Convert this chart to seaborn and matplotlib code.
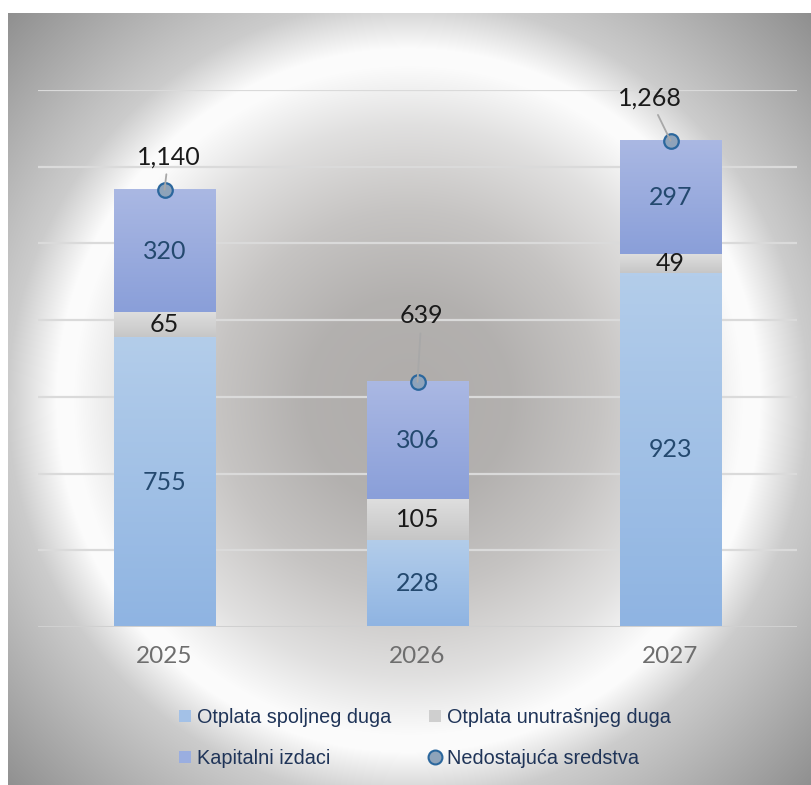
import numpy as np
import pandas as pd
import matplotlib
matplotlib.use("Agg")
import matplotlib.pyplot as plt
import seaborn as sns
from matplotlib.patches import Patch
from matplotlib.lines import Line2D
from matplotlib.colors import LinearSegmentedColormap

# ---------------- data ----------------
years = ["2025", "2026", "2027"]
spoljni = [755, 228, 923]          # Otplata spoljneg duga
unutrasnji = [65, 105, 49]         # Otplata unutrašnjeg duga
kapitalni = [320, 306, 297]        # Kapitalni izdaci
nedostajuca = [1140, 639, 1268]    # Nedostajuća sredstva
series_names = ["Otplata spoljneg duga", "Otplata unutrašnjeg duga",
                "Kapitalni izdaci", "Nedostajuća sredstva"]

sns.set_theme(style="white")
plt.rcParams["font.family"] = ["Lato", "DejaVu Sans"]

W, H = 811, 785
fig = plt.figure(figsize=(W / 100, H / 100), dpi=100)
fig.patch.set_facecolor("white")

# ---------------- radial gradient background ----------------
bx0, by0 = 8, 13
bw, bh = W - bx0, H - by0
bg_ax = fig.add_axes([bx0 / W, 0, bw / W, bh / H], zorder=-5)
yy, xx = np.mgrid[0:bh, 0:bw]
cx, cy = 408, 400
r = np.hypot((bx0 + xx - cx), (by0 + yy - cy)) / 345.0
tp = [0, 0.3, 0.55, 0.8, 0.97, 1.02, 1.16, 1.62]
vp = [0.68, 0.695, 0.77, 0.88, 0.985, 0.985, 0.80, 0.56]
v = np.interp(r, tp, vp)
warm = np.interp(r, [0, 0.6, 0.9], [1.0, 0.6, 0.0])
img = np.dstack([v + 0.008 * warm, v - 0.004 * warm, v - 0.012 * warm])
img = np.clip(img, 0, 1)
bg_ax.imshow(img, aspect="auto", extent=[0, 1, 0, 1], origin="upper")
bg_ax.axis("off")

# ---------------- main axes ----------------
ax = fig.add_axes([38 / W, (H - 627) / H, 759 / W, (627 - 90) / H])
ax.set_facecolor("none")

df = pd.DataFrame({"year": years, "spoljni": spoljni,
                   "unutrasnji": unutrasnji, "kapitalni": kapitalni})
bottom2 = np.array(spoljni)
bottom3 = bottom2 + np.array(unutrasnji)

bw_frac = 102 / 253
sns.barplot(data=df, x="year", y="spoljni", color="#a3c1e7", width=bw_frac,
            ax=ax, zorder=3, linewidth=0, saturation=1)
sns.barplot(data=df, x="year", y="unutrasnji", bottom=bottom2, color="#d2d2d2",
            width=bw_frac, ax=ax, zorder=3, linewidth=0, saturation=1)
sns.barplot(data=df, x="year", y="kapitalni", bottom=bottom3, color="#9aaee0",
            width=bw_frac, ax=ax, zorder=3, linewidth=0, saturation=1)

ax.set_xlim(-0.5, 2.5)
ax.set_ylim(0, 1400)

# gradient fills on bars
grads = [("#b3cdea", "#8fb4e2"), ("#dedede", "#c6c6c6"), ("#aab8e3", "#8a9fd9")]
patches = list(ax.patches)
for k, p in enumerate(patches):
    s = k // 3
    top_c, bot_c = grads[s]
    cmap = LinearSegmentedColormap.from_list("g", [bot_c, top_c])
    x0, y0, w, h = p.get_x(), p.get_y(), p.get_width(), p.get_height()
    grad = np.linspace(0, 1, 100).reshape(-1, 1)
    ax.imshow(grad, cmap=cmap, aspect="auto", origin="lower",
              extent=[x0, x0 + w, y0, y0 + h], zorder=3.5)
ax.set_xlim(-0.5, 2.5)
ax.set_ylim(0, 1400)

# gridlines
for gy in range(200, 1401, 200):
    ax.axhline(gy, color="#dadada", lw=1.6, zorder=1)
ax.axhline(0, color="#d0d0d0", lw=2.2, zorder=4)

# segment labels
fs = 18
xs = np.arange(len(years))
for i in xs:
    ax.text(i, spoljni[i] / 2, f"{spoljni[i]:,}", ha="center", va="center",
            fontsize=fs, color="#24496f", zorder=6)
    ax.text(i, bottom2[i] + unutrasnji[i] / 2, f"{unutrasnji[i]:,}", ha="center",
            va="center", fontsize=fs, color="#1a1a1a", zorder=6)
    ax.text(i, bottom3[i] + kapitalni[i] / 2, f"{kapitalni[i]:,}", ha="center",
            va="center", fontsize=fs, color="#24496f", zorder=6)

# Nedostajuća sredstva markers
sns.scatterplot(x=xs, y=nedostajuca, ax=ax, s=110, color="#8ea3ba",
                edgecolor="#2b679d", linewidth=1.6, zorder=7, legend=False)

offsets = [(4, 33), (4, 66), (-21, 43)]
for i, (dx, dy) in enumerate(offsets):
    ax.annotate(f"{nedostajuca[i]:,}", xy=(i, nedostajuca[i]),
                xytext=(dx, dy), textcoords="offset pixels",
                ha="center", va="center", fontsize=fs,
                color="#1a1a1a", zorder=8, annotation_clip=False,
                arrowprops=dict(arrowstyle="-", color="#a8a8a8", lw=1.3,
                                shrinkA=2, shrinkB=0))

# axes cosmetics
for sp in ax.spines.values():
    sp.set_visible(False)
ax.set_xlabel("")
ax.set_ylabel("")
ax.set_yticks([])
ax.tick_params(axis="x", length=0, pad=14, labelsize=17.5, labelcolor="#6e6e6e")

# legend
handles = [
    Patch(facecolor="#a3c1e7", edgecolor="none"),
    Patch(facecolor="#9aaee0", edgecolor="none"),
    Patch(facecolor="#cfcfcf", edgecolor="none"),
    Line2D([], [], marker="o", linestyle="none", markersize=10,
           markerfacecolor="#8ea3ba", markeredgecolor="#2b679d",
           markeredgewidth=1.5),
]
labels = [series_names[0], series_names[2], series_names[1], series_names[3]]
fig.legend(handles, labels, loc="center", bbox_to_anchor=(425 / W, (H - 738) / H),
           ncol=2, frameon=False, handlelength=0.6, handleheight=0.6,
           handletextpad=0.3, columnspacing=1.9, labelspacing=1.1,
           prop={"family": ["Liberation Sans"], "size": 14.3},
           labelcolor="#1f3458")

fig.savefig("out.png", dpi=100)
